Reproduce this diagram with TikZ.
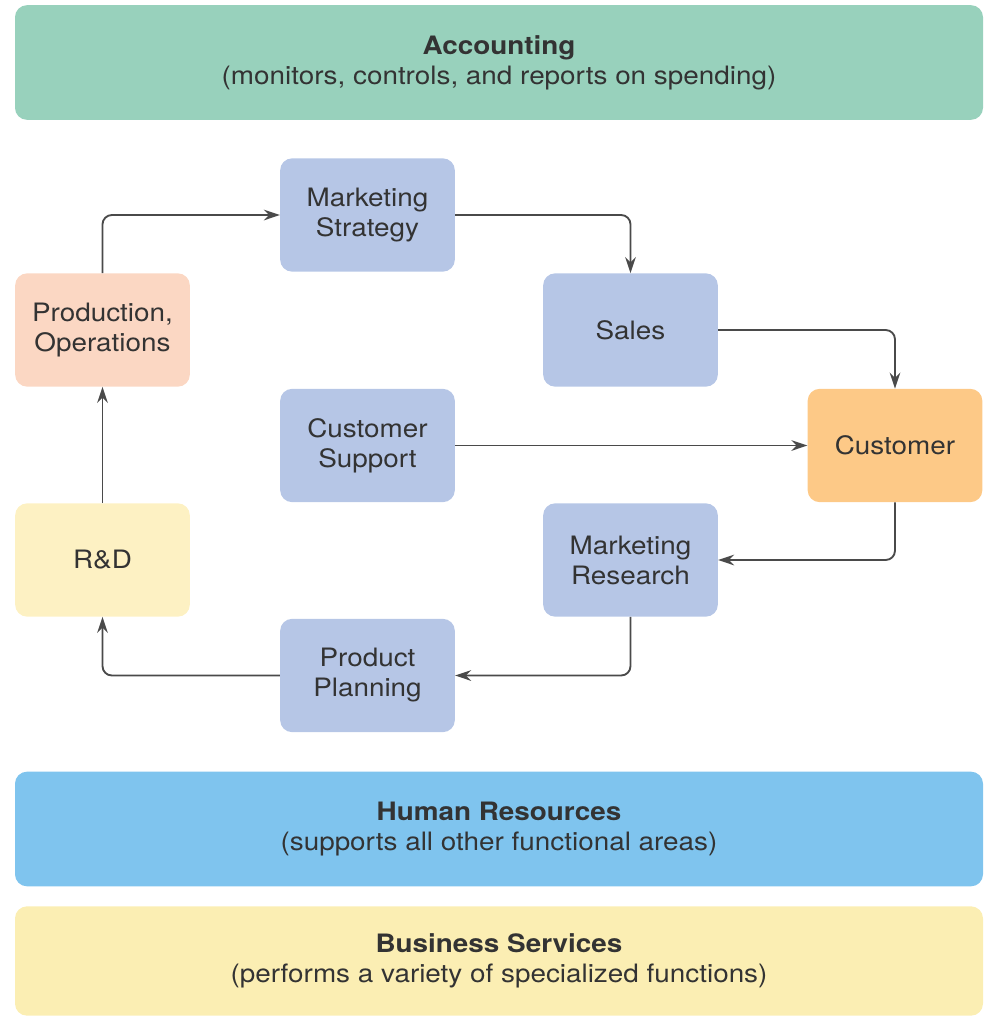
\documentclass[tikz,border=0pt]{standalone}
\usepackage{fontspec}
\setmainfont{TeX Gyre Heros}[FakeStretch=1.1]
\usepackage{tikz}
\usetikzlibrary{arrows.meta}
\definecolor{acccol}{HTML}{98D1BC}
\definecolor{prodcol}{HTML}{FBD7C3}
\definecolor{unitcol}{HTML}{B6C6E6}
\definecolor{custcol}{HTML}{FDC987}
\definecolor{rdcol}{HTML}{FDF1C3}
\definecolor{hrcol}{HTML}{7FC4EE}
\definecolor{bscol}{HTML}{FBEEB3}
\definecolor{inkcol}{HTML}{333333}
\definecolor{linecol}{HTML}{4A4A4A}
\tikzset{dept/.style = {rounded corners=9pt, minimum width=131pt, minimum height=85pt, align=center, text=inkcol, font=\fontsize{19}{22.5}\selectfont, inner sep=2pt}}
\tikzset{unit/.style = {dept, fill=unitcol}}
\tikzset{band/.style = {rounded corners=9pt, minimum width=726pt, minimum height=86pt, align=center, text=inkcol, font=\fontsize{19}{22.5}\selectfont}}
\tikzset{flow/.style = {->, draw=linecol, line width=1.4pt, rounded corners=7pt}}

\begin{document}
\begin{tikzpicture}[x=0.75pt, y=-0.75pt, >={Stealth[length=12pt, width=8pt]}]
  \useasboundingbox (0,0) rectangle (986,1018);
  % banners
  \node [band, fill=acccol] (acc) at (499,62.5) {\textbf{Accounting}\\(monitors, controls, and reports on spending)};
  \node [band, fill=hrcol] (hr) at (499,829) {\textbf{Human Resources}\\(supports all other functional areas)};
  \node [band, fill=bscol, minimum height=82pt] (bs) at (499,961) {\textbf{Business Services}\\(performs a variety of specialized functions)};
  % the cycle
  \node [unit] (ms) at (367.5,215) {Marketing\\Strategy};
  \node [dept, fill=prodcol] (prod) at (102.5,330) {Production,\\Operations};
  \node [unit] (sales) at (630.5,330) {Sales};
  \node [unit] (cs) at (367.5,445.5) {Customer\\Support};
  \node [dept, fill=custcol] (cust) at (895,445.5) {Customer};
  \node [dept, fill=rdcol] (rd) at (102.5,560) {R\&D};
  \node [unit] (mr) at (630.5,560) {Marketing\\Research};
  \node [unit] (pp) at (367.5,675.5) {Product\\Planning};
  \draw [flow] (prod.north) |- (ms.west);
  \draw [flow] (ms.east) -| (sales.north);
  \draw [flow] (sales.east) -| (cust.north);
  \draw [flow] (cs.east) -- (cust.west);
  \draw [flow] (cust.south) |- (mr.east);
  \draw [flow] (mr.south) |- (pp.east);
  \draw [flow] (pp.west) -| (rd.south);
  \draw [flow] (rd.north) -- (prod.south);
\end{tikzpicture}
\end{document}
